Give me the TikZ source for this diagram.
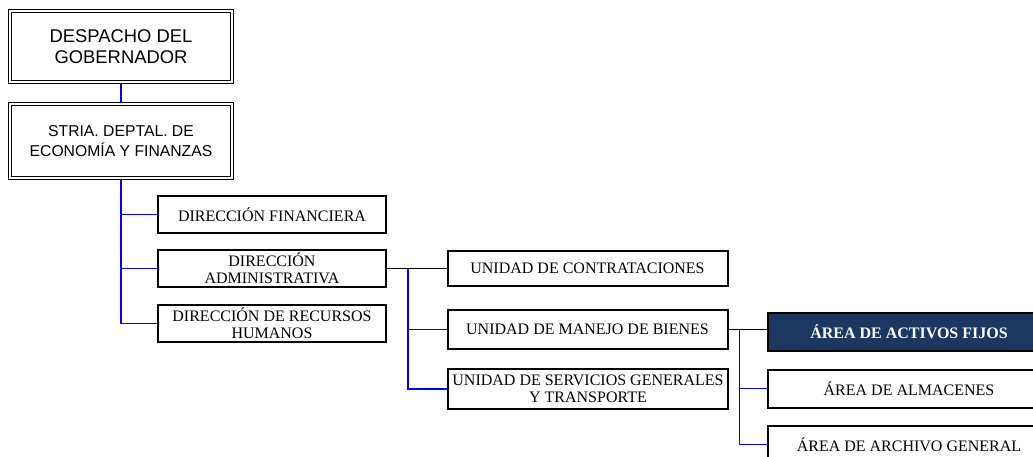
\documentclass[tikz,border=0pt]{standalone}
\usepackage{fontspec}
\setmainfont{Liberation Serif}
\newfontfamily\arialfont{Liberation Sans}
\definecolor{azuloscuro}{RGB}{28,56,96}
\begin{document}
\begin{tikzpicture}[x=0.75pt, y=-0.75pt,
    caja/.style={draw, line width=1.5pt, fill=white, align=center, inner sep=0pt,
        font=\fontsize{12}{12.5}\selectfont},
    cajadoble/.style={draw, double, double distance=1.1pt, line width=0.9pt, align=center,
        inner sep=0pt, minimum width=166.5pt, font=\arialfont\fontsize{13.8}{16}\selectfont},
    cajadir/.style={caja, minimum width=171pt, minimum height=27.75pt},
    cajauni/.style={caja, minimum width=210pt},
    cajaarea/.style={caja, minimum width=211.5pt, minimum height=28.5pt},
    cajaoscura/.style={cajaarea, fill=azuloscuro, text=white,
        font=\bfseries\fontsize{12}{12.5}\selectfont},
    azul/.style={blue, line width=1.4pt},
    negra/.style={black, line width=1.4pt}]
    % Marco del dibujo
    \useasboundingbox (0,0) rectangle (1033,457);
    \clip (0,0) rectangle (1033,457);

    % Despacho y secretaria
    \node[cajadoble, minimum height=53.25pt] (gob) at (121,46.5) {DESPACHO DEL\\GOBERNADOR};
    \node[cajadoble, minimum height=55.5pt, font=\arialfont\fontsize{11.8}{15}\selectfont]
        (stria) at (121,141) {STRIA. DEPTAL. DE\\ECONOMÍA Y FINANZAS};

    % Direcciones
    \node[cajadir] (fin) at (272,214.5) {DIRECCIÓN FINANCIERA};
    \node[cajadir] (adm) at (272,268.5) {DIRECCIÓN\\ADMINISTRATIVA};
    \node[cajadir] (rrhh) at (272,323.5) {DIRECCIÓN DE RECURSOS\\HUMANOS};

    % Unidades
    \node[cajauni, minimum height=26.25pt] (contr) at (587.5,268) {UNIDAD DE CONTRATACIONES};
    \node[cajauni, minimum height=29.25pt] (manejo) at (587.5,329.5) {UNIDAD DE MANEJO DE BIENES};
    \node[cajauni, minimum height=30pt] (serv) at (588,389) {UNIDAD DE SERVICIOS GENERALES\\Y TRANSPORTE};

    % Areas
    \node[cajaoscura] (activos) at (909,331.5) {ÁREA DE ACTIVOS FIJOS};
    \node[cajaarea] (almac) at (909,388.5) {ÁREA DE ALMACENES};
    \node[cajaarea] (archivo) at (909,444.5) {ÁREA DE ARCHIVO GENERAL};

    % Conectores
    \draw[azul] (gob) -- (stria);
    \draw[azul] (stria.south) |- (fin.west);
    \draw[azul] (stria.south) |- (adm.west);
    \draw[azul] (stria.south) |- (rrhh.west);

    \draw[negra] (adm.east) -- (adm.east -| contr.west);
    \coordinate (ramaA) at ([xshift=15.75pt]adm.east);
    \draw[azul] (ramaA) |- (manejo.west);
    \draw[azul] (ramaA) |- (serv.west);

    \draw[negra] (manejo.east) -- (manejo.east -| activos.west);
    \coordinate (ramaB) at ([xshift=8.25pt]manejo.east);
    \draw[azul] (ramaB) |- (almac.west);
    \draw[azul] (ramaB) |- (archivo.west);
\end{tikzpicture}
\end{document}
